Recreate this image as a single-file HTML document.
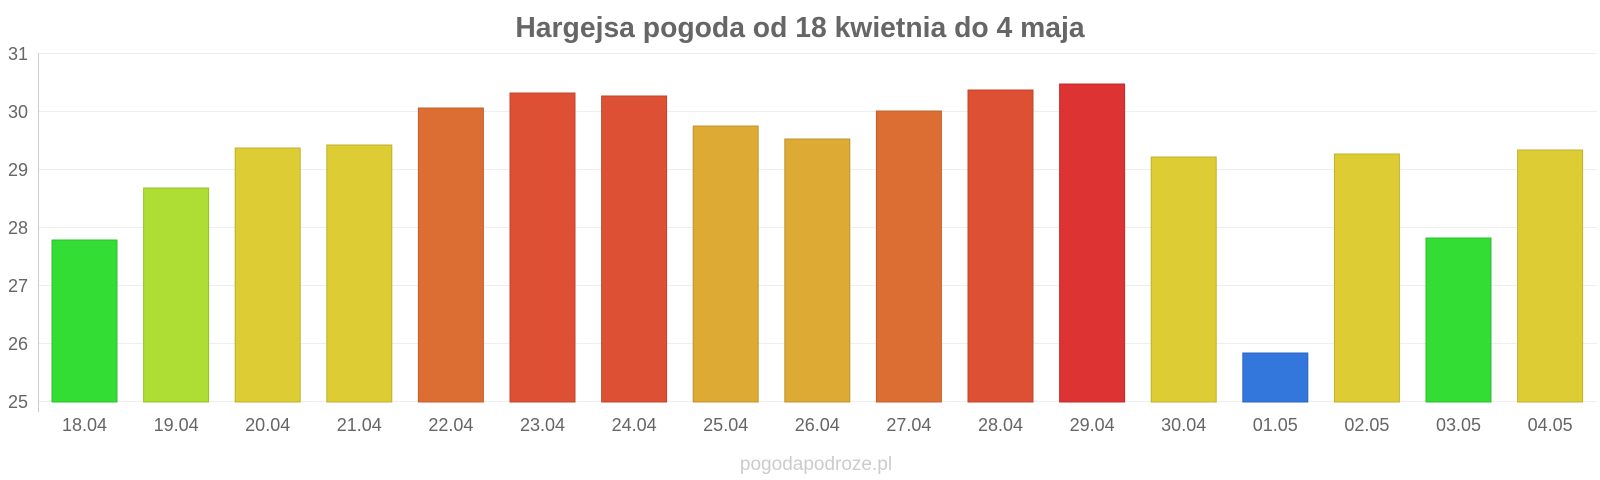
<!DOCTYPE html>
<html><head><meta charset="utf-8"><style>
html,body{margin:0;padding:0;background:#fff;}
svg{display:block;font-family:"Liberation Sans",Arial,sans-serif;}
</style></head><body>
<svg width="1600" height="480" viewBox="0 0 1600 480" xmlns="http://www.w3.org/2000/svg">
<text x="800" y="37" text-anchor="middle" font-size="28.3" font-weight="bold" fill="#666">Hargejsa pogoda od 18 kwietnia do 4 maja</text>
<g stroke="#eee" stroke-width="1">
<line x1="39" y1="53.5" x2="1597" y2="53.5"/>
<line x1="39" y1="111.5" x2="1597" y2="111.5"/>
<line x1="39" y1="169.5" x2="1597" y2="169.5"/>
<line x1="39" y1="227.5" x2="1597" y2="227.5"/>
<line x1="39" y1="285.5" x2="1597" y2="285.5"/>
<line x1="39" y1="343.5" x2="1597" y2="343.5"/>
<line x1="39" y1="401.5" x2="1597" y2="401.5"/>
</g>
<line x1="38.5" y1="53" x2="38.5" y2="412" stroke="#ccc"/>
<g font-size="18" fill="#666" text-anchor="end">
<text x="28" y="60">31</text><text x="28" y="118">30</text><text x="28" y="176">29</text>
<text x="28" y="234">28</text><text x="28" y="292">27</text><text x="28" y="350">26</text><text x="28" y="408">25</text>
</g>
<g stroke-width="1">
<rect x="52" y="240" width="65" height="162" fill="#33dd33" stroke="#2cc02c"/>
<rect x="143.6" y="188" width="65" height="214" fill="#aedd33" stroke="#98c02c"/>
<rect x="235.2" y="148" width="65" height="254" fill="#ddcc33" stroke="#c0b02c"/>
<rect x="326.8" y="145" width="65" height="257" fill="#ddcc33" stroke="#c0b02c"/>
<rect x="418.4" y="108" width="65" height="294" fill="#dd6e33" stroke="#c0602c"/>
<rect x="510" y="93" width="65" height="309" fill="#dd5033" stroke="#c0452c"/>
<rect x="601.6" y="96" width="65" height="306" fill="#dd5033" stroke="#c0452c"/>
<rect x="693.2" y="126" width="65" height="276" fill="#ddaa33" stroke="#c0942c"/>
<rect x="784.8" y="139" width="65" height="263" fill="#ddaa33" stroke="#c0942c"/>
<rect x="876.4" y="111" width="65" height="291" fill="#dd6e33" stroke="#c0602c"/>
<rect x="968" y="90" width="65" height="312" fill="#dd5033" stroke="#c0452c"/>
<rect x="1059.6" y="84" width="65" height="318" fill="#dd3333" stroke="#c02c2c"/>
<rect x="1151.2" y="157" width="65" height="245" fill="#ddcc33" stroke="#c0b02c"/>
<rect x="1242.8" y="353" width="65" height="49" fill="#3377dd" stroke="#2c66c0"/>
<rect x="1334.4" y="154" width="65" height="248" fill="#ddcc33" stroke="#c0b02c"/>
<rect x="1426" y="238" width="65" height="164" fill="#33dd33" stroke="#2cc02c"/>
<rect x="1517.6" y="150" width="65" height="252" fill="#ddcc33" stroke="#c0b02c"/>
</g>
<g font-size="18" fill="#666" text-anchor="middle">
<text x="84.5" y="431">18.04</text><text x="176.1" y="431">19.04</text><text x="267.7" y="431">20.04</text>
<text x="359.3" y="431">21.04</text><text x="450.9" y="431">22.04</text><text x="542.5" y="431">23.04</text>
<text x="634.1" y="431">24.04</text><text x="725.7" y="431">25.04</text><text x="817.3" y="431">26.04</text>
<text x="908.9" y="431">27.04</text><text x="1000.5" y="431">28.04</text><text x="1092.1" y="431">29.04</text>
<text x="1183.7" y="431">30.04</text><text x="1275.3" y="431">01.05</text><text x="1366.9" y="431">02.05</text>
<text x="1458.5" y="431">03.05</text><text x="1550.1" y="431">04.05</text>
</g>
<text x="816" y="470" text-anchor="middle" font-size="19" fill="#ccc">pogodapodroze.pl</text>
</svg>
</body></html>
